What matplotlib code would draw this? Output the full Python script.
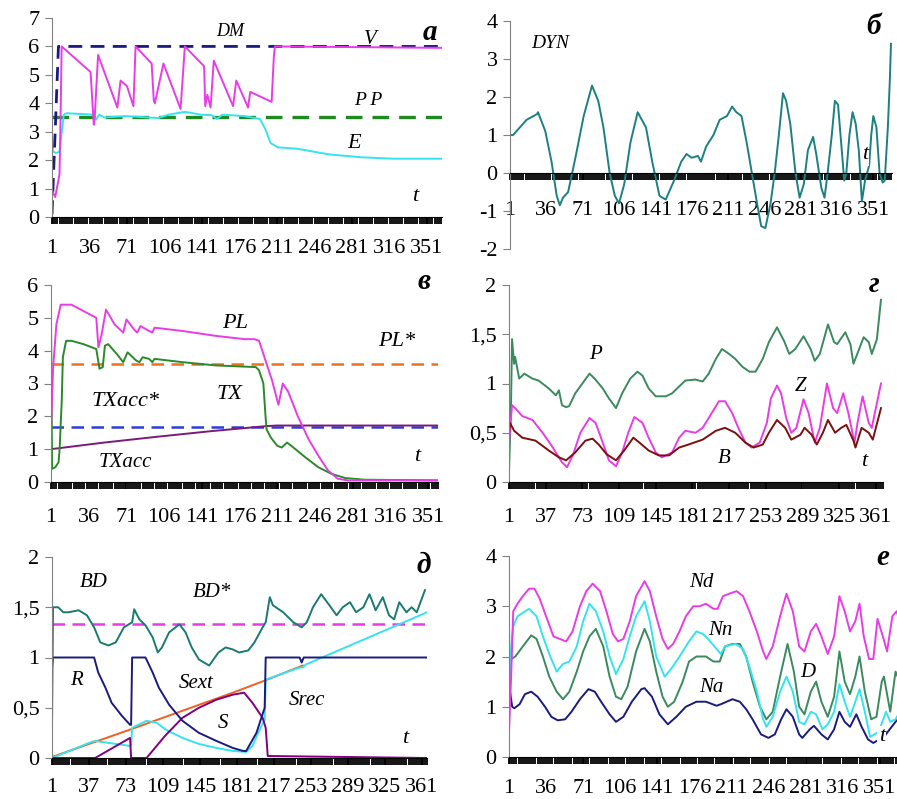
import numpy as np
import matplotlib
matplotlib.use('Agg')
import matplotlib.pyplot as plt
from matplotlib.ticker import MultipleLocator

plt.rcParams['font.family'] = ['Liberation Serif', 'DejaVu Serif']

# ---------------- panel a ----------------
v_t = [1, 4, 8, 9, 10, 37, 40, 41, 44, 62, 65, 71, 77, 79, 94, 96, 97, 105, 121, 125,
       143, 144, 146, 149, 152, 170, 173, 184, 186, 206, 208, 209, 365]
v_val = [0.95, 0.7, 1.5, 3.5, 6.0, 5.1, 3.25, 3.6, 5.7, 3.85, 4.8, 4.6, 3.9, 6.0, 5.4, 4.1, 4.0, 5.4, 3.8, 6.0,
         5.3, 3.9, 4.3, 3.85, 5.5, 3.9, 4.8, 3.85, 4.4, 4.05, 5.6, 6.0, 5.95]
dm_t = [1, 7, 365]
dm_val = [0.1, 6.0, 6.0]
pp_t = [1, 365]
pp_val = [3.52, 3.52]
e_t = [1, 2, 5, 8, 12, 15, 40, 42, 45, 50, 70, 100, 110, 125, 140, 150, 155, 160, 180, 195,
       200, 205, 212, 230, 260, 290, 320, 365]
e_val = [2.8, 2.3, 2.25, 2.3, 3.6, 3.65, 3.6, 3.42, 3.6, 3.5, 3.55, 3.48, 3.6, 3.7, 3.6, 3.58, 3.45, 3.6, 3.55, 3.45,
         3.1, 2.6, 2.45, 2.4, 2.2, 2.1, 2.05, 2.05]

# ---------------- panel b ----------------
dyn_t = [1, 4, 17, 27, 28, 35, 41, 46, 49, 52, 57, 64, 72, 80, 86, 91, 97, 102, 106, 111,
         117, 124, 132, 138, 145, 151, 159, 166, 171, 176, 182, 185, 190, 197, 203, 210, 215, 219, 224, 229,
         234, 239, 243, 247, 252, 256, 260, 264, 267, 271, 276, 280, 284, 288, 293, 296, 301, 304, 307, 311,
         314, 317, 320, 323, 325, 328, 331, 334, 337, 340, 343, 347, 349, 351, 354, 357, 360, 362, 365, 367, 368]
dyn_val = [1.0, 1.0, 1.4, 1.55, 1.6, 1.1, 0.3, -0.6, -0.85, -0.65, -0.5, 0.4, 1.5, 2.3, 1.9, 1.2, 0.0, -0.6, -0.8, -0.3,
           0.8, 1.6, 1.2, 0.3, -0.6, -0.7, -0.2, 0.3, 0.5, 0.4, 0.45, 0.3, 0.7, 1.0, 1.4, 1.5, 1.75, 1.6, 1.5, 0.8,
           0.0, -0.8, -1.4, -1.45, -0.8, 0.0, 1.0, 2.1, 1.9, 1.3, 0.0, -0.65, -0.3, 0.6, 0.95, 0.5, -0.4, -0.65, 0.0, 1.0,
           1.9, 1.8, 0.8, -0.2, 0.0, 1.0, 1.6, 1.3, 0.6, -0.75, -0.2, 0.2, 1.0, 1.5, 1.2, 0.0, -0.25, -0.2, 1.2, 2.5, 3.4]

# ---------------- panel v ----------------
pl_t = [1, 3, 6, 10, 20, 43, 45, 48, 52, 60, 68, 71, 78, 81, 84, 92, 95, 97, 123, 154,
        181, 190, 194, 200, 206, 212, 216, 221, 230, 240, 249, 258, 267, 276, 360]
pl_val = [1.6, 3.5, 4.8, 5.4, 5.4, 5.0, 4.1, 4.5, 5.25, 4.8, 4.55, 4.95, 4.65, 4.55, 4.75, 4.6, 4.55, 4.7, 4.6, 4.45,
          4.35, 4.35, 4.3, 3.7, 3.1, 2.35, 3.0, 2.75, 2.0, 1.3, 0.8, 0.35, 0.1, 0.05, 0.05]
tx_t = [1, 2, 5, 8, 9, 11, 12, 15, 20, 31, 43, 46, 49, 51, 54, 62, 68, 72, 80, 83,
        86, 92, 95, 97, 123, 154, 191, 194, 198, 200, 201, 205, 211, 215, 220, 224, 237, 249, 261, 274,
        292, 360]
tx_val = [5.0, 0.4, 0.45, 0.6, 1.0, 2.5, 3.8, 4.3, 4.3, 4.2, 4.05, 3.45, 3.5, 4.15, 4.2, 3.9, 3.65, 3.95, 3.7, 3.65,
          3.8, 3.75, 3.65, 3.75, 3.65, 3.55, 3.5, 3.4, 3.0, 2.0, 1.6, 1.35, 1.1, 1.05, 1.2, 1.1, 0.75, 0.45, 0.25, 0.12,
          0.07, 0.05]
txacc_t = [1, 50, 100, 150, 200, 210, 360]
txacc_val = [1.0, 1.2, 1.38, 1.55, 1.7, 1.72, 1.72]
txacc_star = 1.68
pl_star = 3.6

# ---------------- panel g ----------------
p_t = [1, 3, 4, 6, 7, 11, 16, 24, 30, 40, 47, 50, 53, 57, 60, 66, 73, 80, 85, 93,
       99, 106, 112, 120, 127, 132, 138, 145, 155, 161, 168, 174, 184, 191, 197, 204, 210, 217, 223, 230,
       237, 243, 250, 256, 264, 271, 276, 282, 290, 297, 301, 306, 314, 320, 323, 331, 336, 339, 342, 349,
       354, 357, 362, 366]
p_val = [0.1, 0.8, 1.45, 1.2, 1.27, 1.05, 1.1, 1.05, 1.03, 0.95, 0.88, 0.93, 0.78, 0.76, 0.77, 0.9, 1.0, 1.1, 1.05, 0.95,
         0.85, 0.75, 0.9, 1.05, 1.12, 1.08, 0.95, 0.87, 0.87, 0.9, 0.97, 1.03, 1.04, 1.02, 1.1, 1.25, 1.35, 1.3, 1.25, 1.17,
         1.12, 1.12, 1.25, 1.42, 1.57, 1.43, 1.3, 1.35, 1.48, 1.35, 1.23, 1.3, 1.6, 1.42, 1.4, 1.52, 1.4, 1.2, 1.28, 1.47,
         1.42, 1.3, 1.45, 1.85]
z_t = [1, 4, 7, 14, 24, 34, 44, 53, 58, 64, 71, 80, 86, 93, 99, 106, 112, 118, 124, 132,
       138, 145, 151, 161, 168, 174, 184, 191, 197, 207, 213, 220, 226, 233, 239, 247, 254, 258, 264, 268,
       273, 278, 283, 290, 295, 301, 306, 313, 319, 323, 329, 334, 340, 343, 348, 354, 357, 366]
z_val = [0.4, 0.78, 0.75, 0.67, 0.63, 0.5, 0.35, 0.2, 0.15, 0.28, 0.5, 0.65, 0.6, 0.4, 0.22, 0.16, 0.3, 0.5, 0.66, 0.6,
         0.45, 0.3, 0.25, 0.3, 0.45, 0.52, 0.5, 0.55, 0.65, 0.82, 0.82, 0.7, 0.55, 0.4, 0.35, 0.4, 0.6, 0.85, 0.98, 0.9,
         0.65, 0.5, 0.55, 0.84, 0.7, 0.4, 0.55, 1.0, 0.75, 0.7, 0.9, 0.7, 0.4, 0.6, 0.87, 0.6, 0.55, 1.0]
b_t = [1, 2, 6, 14, 27, 40, 50, 57, 66, 76, 83, 89, 97, 106, 114, 123, 129, 138, 148, 158,
       168, 177, 191, 204, 213, 223, 233, 241, 250, 256, 264, 272, 278, 287, 291, 298, 303, 309, 314, 321,
       327, 332, 339, 341, 347, 354, 358, 366]
b_val = [0.5, 0.6, 0.52, 0.45, 0.42, 0.32, 0.25, 0.22, 0.3, 0.42, 0.44, 0.38, 0.28, 0.22, 0.32, 0.45, 0.4, 0.32, 0.27, 0.27,
         0.35, 0.38, 0.43, 0.52, 0.55, 0.5, 0.4, 0.35, 0.38, 0.5, 0.63, 0.55, 0.43, 0.48, 0.55, 0.48, 0.38, 0.5, 0.63, 0.5,
         0.55, 0.58, 0.42, 0.35, 0.55, 0.5, 0.43, 0.75]

# ---------------- panel d ----------------
bd_t = [1, 2, 7, 12, 17, 27, 35, 42, 48, 56, 63, 71, 79, 81, 86, 92, 99, 104, 108, 115,
        125, 131, 137, 144, 154, 163, 170, 177, 183, 192, 198, 206, 209, 213, 216, 226, 236, 244, 249, 255,
        263, 271, 278, 284, 291, 297, 304, 310, 316, 323, 329, 334, 339, 346, 351, 356, 364]
bd_val = [0.3, 1.5, 1.5, 1.45, 1.45, 1.47, 1.42, 1.3, 1.15, 1.12, 1.15, 1.3, 1.35, 1.48, 1.38, 1.32, 1.2, 1.05, 1.1, 1.25,
          1.33, 1.25, 1.1, 0.98, 0.92, 1.05, 1.1, 1.08, 1.05, 1.07, 1.15, 1.3, 1.35, 1.6, 1.52, 1.45, 1.35, 1.3, 1.35, 1.5,
          1.63, 1.52, 1.42, 1.5, 1.55, 1.45, 1.5, 1.63, 1.47, 1.6, 1.42, 1.38, 1.55, 1.45, 1.5, 1.45, 1.67]
bd_star = 1.33
r_t = [1, 2, 42, 46, 53, 59, 69, 77, 78, 79, 92, 99, 105, 115, 128, 144, 161, 177, 187, 190,
       200, 208, 209, 242, 244, 246, 366]
r_val = [0.9, 1.0, 1.0, 0.85, 0.7, 0.55, 0.42, 0.33, 0.33, 1.0, 1.0, 0.85, 0.7, 0.53, 0.37, 0.25, 0.17, 0.1, 0.07, 0.07,
         0.25, 0.5, 1.0, 1.0, 0.95, 1.0, 1.0]
sext_t = [1, 79, 177, 208, 245]
sext_val = [0.01, 0.29, 0.65, 0.77, 0.92]
srec_t = [1, 37, 43, 56, 77, 78, 79, 93, 103, 112, 128, 144, 161, 177, 190, 196, 204, 208, 209, 242,
          245, 248, 366]
srec_val = [0.0, 0.15, 0.17, 0.15, 0.12, 0.12, 0.3, 0.37, 0.35, 0.28, 0.2, 0.14, 0.1, 0.07, 0.06, 0.12, 0.3, 0.38, 0.78, 0.9,
            0.9, 0.93, 1.45]
s_t = [1, 43, 77, 78, 93, 111, 128, 144, 161, 177, 188, 196, 206, 209, 211, 366]
s_val = [0.0, 0.0, 0.2, 0.0, 0.0, 0.22, 0.4, 0.5, 0.58, 0.63, 0.65, 0.55, 0.4, 0.3, 0.02, 0.0]

# ---------------- panel e ----------------
nd_t = [1, 3, 5, 9, 14, 20, 25, 30, 36, 43, 49, 55, 61, 68, 74, 80, 87, 93, 99, 104,
        109, 115, 121, 129, 134, 140, 146, 151, 156, 162, 168, 175, 181, 187, 194, 198, 203, 209, 216, 222,
        228, 235, 241, 244, 250, 257, 263, 269, 275, 280, 286, 291, 296, 302, 308, 313, 318, 323, 328, 332,
        336, 341, 345, 349, 354, 358, 363, 367, 370]
nd_val = [0.5, 1.6, 2.9, 3.05, 3.2, 3.35, 3.35, 3.15, 2.8, 2.4, 2.35, 2.3, 2.5, 3.0, 3.3, 3.45, 3.3, 2.9, 2.45, 2.3,
          2.35, 2.7, 3.2, 3.5, 3.3, 2.8, 2.35, 2.15, 2.25, 2.5, 2.8, 3.0, 3.0, 3.05, 2.95, 2.95, 3.2, 3.25, 3.3, 3.2,
          2.9, 2.5, 2.1, 1.95, 2.2, 2.8, 3.25, 2.9, 2.2, 2.1, 2.5, 2.65, 2.4, 2.05, 2.4, 3.2, 2.9, 2.5, 2.7, 3.05,
          2.4, 1.95, 1.95, 2.75, 2.4, 2.1, 2.8, 2.9, 2.7]
nn_t = [1, 2, 4, 5, 9, 20, 27, 33, 39, 46, 52, 58, 65, 71, 77, 83, 90, 96, 102, 109,
        115, 121, 129, 134, 140, 148, 154, 162, 171, 178, 184, 189, 197, 201, 205, 215, 222, 228, 235, 241,
        244, 250, 257, 263, 269, 275, 280, 286, 291, 297, 302, 308, 313, 318, 323, 328, 332, 337, 342, 350,
        357, 361, 366, 370]
nn_val = [2.6, 1.6, 2.4, 2.6, 2.8, 2.95, 2.8, 2.4, 2.05, 1.7, 1.85, 1.9, 2.2, 2.7, 3.05, 2.9, 2.5, 2.0, 1.65, 1.95,
          2.4, 2.8, 3.1, 2.7, 2.0, 1.6, 1.75, 2.0, 2.3, 2.5, 2.45, 2.35, 2.15, 2.05, 2.2, 2.25, 2.15, 1.8, 1.3, 0.75,
          0.6, 0.8, 1.3, 1.6, 1.3, 0.7, 0.65, 0.9, 0.85, 0.55, 0.65, 0.9, 1.45, 1.1, 0.8, 1.1, 1.35, 0.9, 0.4, 0.5,
          0.9, 0.7, 0.75, 0.9]
d_t = [1, 3, 7, 14, 22, 27, 33, 39, 46, 52, 58, 65, 71, 77, 83, 90, 96, 102, 107, 113,
       121, 129, 134, 140, 146, 151, 157, 165, 171, 178, 187, 194, 200, 205, 212, 219, 225, 231, 238, 244,
       250, 257, 264, 270, 275, 280, 286, 291, 296, 302, 308, 313, 318, 323, 328, 332, 337, 343, 348, 353,
       355, 361, 366, 370]
d_val = [1.6, 1.95, 2.0, 2.2, 2.42, 2.35, 2.0, 1.6, 1.3, 1.15, 1.3, 1.7, 2.1, 2.4, 2.55, 2.2, 1.6, 1.2, 1.15, 1.4,
         2.1, 2.55, 2.3, 1.7, 1.2, 1.0, 1.1, 1.5, 1.9, 2.0, 2.0, 1.9, 1.9, 2.2, 2.25, 2.25, 2.0, 1.5, 1.0, 0.75,
         0.9, 1.6, 2.25, 1.7, 1.0, 0.85, 1.3, 1.5, 1.1, 0.8, 1.2, 2.1, 1.5, 1.25, 1.6, 2.0, 1.3, 0.75, 0.8, 1.5,
         1.6, 0.9, 1.7, 1.5]
na_t = [1, 4, 6, 11, 16, 22, 28, 35, 41, 47, 54, 60, 68, 76, 82, 88, 96, 102, 109, 117,
        126, 129, 136, 143, 151, 159, 168, 178, 187, 197, 201, 212, 219, 225, 231, 239, 246, 252, 258, 263,
        269, 275, 278, 285, 289, 296, 302, 308, 313, 318, 323, 329, 334, 340, 345, 355, 366, 370]
na_val = [1.45, 1.0, 0.97, 1.05, 1.25, 1.3, 1.2, 1.0, 0.8, 0.73, 0.75, 0.9, 1.15, 1.35, 1.3, 1.1, 0.85, 0.7, 0.8, 1.1,
          1.35, 1.37, 1.2, 0.85, 0.65, 0.8, 1.0, 1.1, 1.1, 1.02, 1.05, 1.15, 1.1, 0.95, 0.75, 0.45, 0.38, 0.45, 0.75, 0.95,
          0.8, 0.45, 0.38, 0.55, 0.62, 0.45, 0.35, 0.55, 0.9, 0.7, 0.6, 0.85, 0.6, 0.35, 0.28, 0.4, 0.7, 0.8]

MAGENTA = '#e83ce6'
CYAN = '#35e3ee'
NAVY = '#1b1b7e'
TICK_FS = 16


def setup(ax, xmax, yticks, ylabels, xticks, pad, zero_spine=False):
    ax.set_xlim(1, xmax)
    ax.set_ylim(yticks[0], yticks[-1])
    ax.set_yticks(yticks)
    ax.set_yticklabels(ylabels)
    ax.set_xticks(xticks)
    ax.set_xticklabels([str(x) for x in xticks])
    ax.xaxis.set_minor_locator(MultipleLocator(2))
    ax.tick_params(axis='x', which='both', direction='out', length=5, width=1.3, color='black',
                   pad=pad, labelsize=TICK_FS)
    ax.tick_params(axis='y', direction='out', length=5, width=0.8, color='#808080', pad=4, labelsize=TICK_FS)
    for s in ['top', 'right']:
        ax.spines[s].set_visible(False)
    ax.spines['left'].set_color('#808080')
    ax.spines['left'].set_linewidth(0.8)
    ax.spines['bottom'].set_color('black')
    if zero_spine:
        ax.spines['bottom'].set_position(('data', 0))
    ax.patch.set_alpha(0)


def lab(ax, x, y, s, size=15, box=False):
    kw = {}
    if box:
        kw['bbox'] = dict(facecolor='white', edgecolor='none', pad=1)
    ax.text(x, y, s, fontsize=size, style='italic', ha='center', va='center', zorder=10, **kw)


def letter(ax, x, y, s):
    ax.text(x, y, s, fontsize=21, style='italic', fontweight='bold', ha='center', va='center')


fig = plt.figure(figsize=(8.97, 7.99), dpi=100)
W, H = 897, 799


def axes_px(left, top, right, bottom):
    return fig.add_axes([left / W, 1 - bottom / H, (right - left) / W, (bottom - top) / H])


lw = 1.4
dash = (0, (5, 3))

# panel a
ax = axes_px(52, 18, 442, 217)
ax.plot(pp_t, pp_val, color='#1f8a1f', lw=2.4, ls=dash)
ax.plot(e_t, e_val, color=CYAN, lw=lw)
ax.plot(dm_t, dm_val, color=NAVY, lw=2.0, ls=dash)
ax.plot(v_t, v_val, color=MAGENTA, lw=lw)
setup(ax, 365, list(range(0, 8)), [str(i) for i in range(0, 8)], list(range(1, 352, 35)), 10.5)
lab(ax, 167, 6.53, 'DM', 13)
lab(ax, 298, 6.25, 'V', 15)
lab(ax, 296, 4.1, 'P P', 14)
lab(ax, 283, 2.6, 'E', 16)
lab(ax, 340, 0.72, 't', 16)
letter(ax, 354, 6.5, 'а')

# panel b
ax = axes_px(510, 21, 892, 249)
ax.plot(dyn_t, dyn_val, color='#1c8080', lw=lw)
setup(ax, 369, list(range(-2, 5)), [str(i) for i in range(-2, 5)], list(range(1, 352, 35)), 15.5,
      zero_spine=True)
lab(ax, 40, 3.41, 'DYN', 14)
lab(ax, 343, 0.48, 't', 16, box=True)
letter(ax, 351, 3.85, 'б')

# panel v
ax = axes_px(51, 285, 438, 482)
ax.plot([1, 360], [pl_star, pl_star], color='#f07020', lw=1.8, ls=dash)
ax.plot([1, 360], [txacc_star, txacc_star], color='#2a3ed8', lw=1.8, ls=dash)
ax.plot(txacc_t, txacc_val, color='#7a1a7a', lw=lw)
ax.plot(tx_t, tx_val, color='#2a8a2a', lw=lw)
ax.plot(pl_t, pl_val, color=MAGENTA, lw=lw)
setup(ax, 360, list(range(0, 7)), [str(i) for i in range(0, 7)], list(range(1, 352, 35)), 13.5)
lab(ax, 172, 4.83, 'PL', 16)
lab(ax, 322, 4.28, 'PL*', 16)
lab(ax, 167, 2.65, 'TX', 16)
lab(ax, 70, 2.45, 'TXacc*', 16)
lab(ax, 70, 0.58, 'TXacc', 15)
lab(ax, 341, 0.78, 't', 16)
letter(ax, 347, 6.1, 'в')

# panel g
ax = axes_px(509, 285, 883, 482)
ax.plot(p_t, p_val, color='#3a8a5e', lw=lw)
ax.plot(z_t, z_val, color=MAGENTA, lw=lw)
ax.plot(b_t, b_val, color='#7a1010', lw=lw)
g_ticks = [0, 0.5, 1, 1.5, 2]
g_labels = ['0', '0,5', '1', '1,5', '2']
setup(ax, 368, g_ticks, g_labels, list(range(1, 362, 36)), 13.5)
lab(ax, 86, 1.29, 'P', 15)
lab(ax, 287, 0.97, 'Z', 15)
lab(ax, 212, 0.24, 'B', 15)
lab(ax, 349, 0.21, 't', 16)
letter(ax, 359, 2.0, 'г')

# panel d
ax = axes_px(52, 557, 427, 758)
ax.plot([1, 366], [bd_star, bd_star], color=MAGENTA, lw=1.8, ls=dash)
ax.plot(sext_t, sext_val, color='#f06020', lw=lw)
ax.plot(srec_t, srec_val, color=CYAN, lw=lw)
ax.plot(s_t, s_val, color='#800080', lw=lw)
ax.plot(r_t, r_val, color=NAVY, lw=lw)
ax.plot(bd_t, bd_val, color='#1a7a72', lw=lw)
setup(ax, 366, g_ticks, g_labels, list(range(1, 362, 36)), 9.5)
lab(ax, 42, 1.75, 'BD', 15)
lab(ax, 157, 1.65, 'BD*', 15)
lab(ax, 25, 0.77, 'R', 15)
lab(ax, 141, 0.74, 'Sext', 15)
lab(ax, 167, 0.34, 'S', 15)
lab(ax, 249, 0.57, 'Srec', 15)
lab(ax, 345, 0.19, 't', 16)
letter(ax, 363, 1.92, 'д')

# panel e
ax = axes_px(509, 556, 509 + 369 * 1.059, 757)
ax.plot(na_t, na_val, color=NAVY, lw=lw)
ax.plot(d_t, d_val, color='#3a8a5e', lw=lw)
ax.plot(nn_t, nn_val, color=CYAN, lw=lw)
ax.plot(nd_t, nd_val, color=MAGENTA, lw=lw)
setup(ax, 370, list(range(0, 5)), [str(i) for i in range(0, 5)], list(range(1, 352, 35)), 10.5)
lab(ax, 183, 3.48, 'Nd', 15)
lab(ax, 201, 2.52, 'Nn', 15)
lab(ax, 283, 1.69, 'D', 15)
lab(ax, 192, 1.39, 'Na', 15)
lab(ax, 353, 0.4, 't', 16, box=True)
letter(ax, 354, 3.98, 'е')

fig.savefig('out.png', dpi=100)
plt.close(fig)
